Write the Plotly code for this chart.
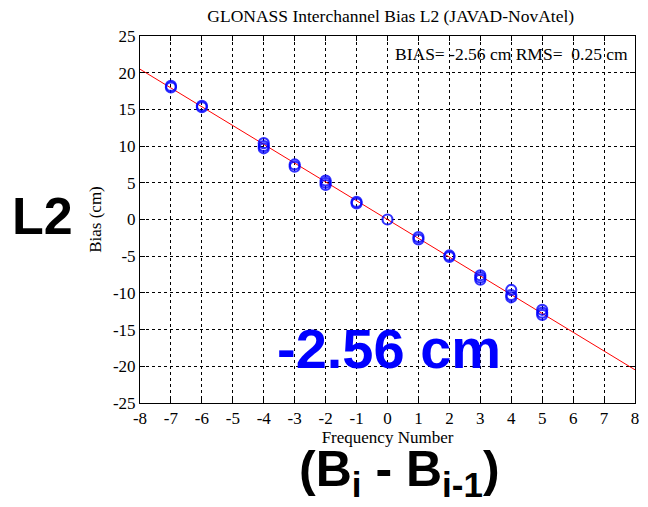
import plotly.graph_objects as go

freq = [-7, -7, -6, -6, -4, -4, -4, -3, -3, -2, -2, -2, -1, -1, 0, 1, 1, 2, 2, 3, 3, 3, 4, 4, 4, 5, 5, 5]
bias = [18.0, 18.2, 15.3, 15.5, 10.4, 10.0, 9.7, 7.2, 7.5, 5.3, 5.0, 4.7, 2.2, 2.4, 0.0, -2.4, -2.7, -4.9, -5.1, -7.6, -7.9, -8.2, -9.6, -10.3, -10.6, -12.3, -12.7, -13.0]
bias_slope = -2.56
fit_x = [-8, 8]
fit_y = [bias_slope * v for v in fit_x]
xticks = list(range(-8, 9))
yticks = list(range(-25, 26, 5))
xlabels = [str(v) for v in xticks]
ylabels = [str(v) for v in yticks]

serif = "Liberation Serif"

fig = go.Figure()
fig.add_trace(go.Scatter(x=fit_x, y=fit_y, mode="lines",
                         line=dict(color="red", width=1), showlegend=False))
fig.add_trace(go.Scatter(x=freq, y=bias, mode="markers",
                         marker=dict(symbol="circle-open", size=10, color="blue",
                                     line=dict(width=2.2, color="blue"), opacity=0.8),
                         showlegend=False))

axis_common = dict(showline=True, linecolor="black", linewidth=1, mirror="ticks",
                   ticks="inside", ticklen=5, tickcolor="black",
                   showgrid=True, gridcolor="black", griddash="3px,3px", gridwidth=1,
                   zeroline=False, tickfont=dict(family=serif, size=17, color="black"))

fig.update_layout(
    width=648, height=507,
    margin=dict(l=140, r=9, t=36, b=104),
    plot_bgcolor="white", paper_bgcolor="white",
    title=dict(text="GLONASS Interchannel Bias L2 (JAVAD-NovAtel)",
               font=dict(family=serif, size=17.5, color="black"),
               x=0.603, xanchor="center", y=0.968, yanchor="middle"),
    xaxis=dict(range=[-8, 8], tickvals=xticks, ticktext=xlabels, **axis_common,
               title=dict(text="Frequency Number", font=dict(family=serif, size=17, color="black"), standoff=0)),
    yaxis=dict(range=[-25, 25], tickvals=yticks, ticktext=ylabels, **axis_common,
               title=dict(text="Bias (cm)", font=dict(family=serif, size=17, color="black"), standoff=6)),
)

fig.add_annotation(x=0.99, y=0.95, xref="paper", yref="paper", xanchor="right", yanchor="middle",
                   text="BIAS= -2.56 cm RMS=  0.25 cm", showarrow=False,
                   font=dict(family=serif, size=17.5, color="black"))
fig.add_annotation(x=-0.196, y=0.51, xref="paper", yref="paper", xanchor="center", yanchor="middle",
                   text="<b>L2</b>", showarrow=False,
                   font=dict(family="Liberation Sans", size=52, color="black"))
fig.add_annotation(x=0.504, y=0.148, xref="paper", yref="paper", xanchor="center", yanchor="middle",
                   text="<b>-2.56 cm</b>", showarrow=False,
                   font=dict(family="Liberation Sans", size=56, color="blue"))
fig.add_annotation(x=0.525, y=-0.19, xref="paper", yref="paper", xanchor="center", yanchor="middle",
                   text="<b>(B<sub>i</sub> - B<sub>i-1</sub>)</b>", showarrow=False,
                   font=dict(family="Liberation Sans", size=50, color="black"))

fig.write_html("out.html")
